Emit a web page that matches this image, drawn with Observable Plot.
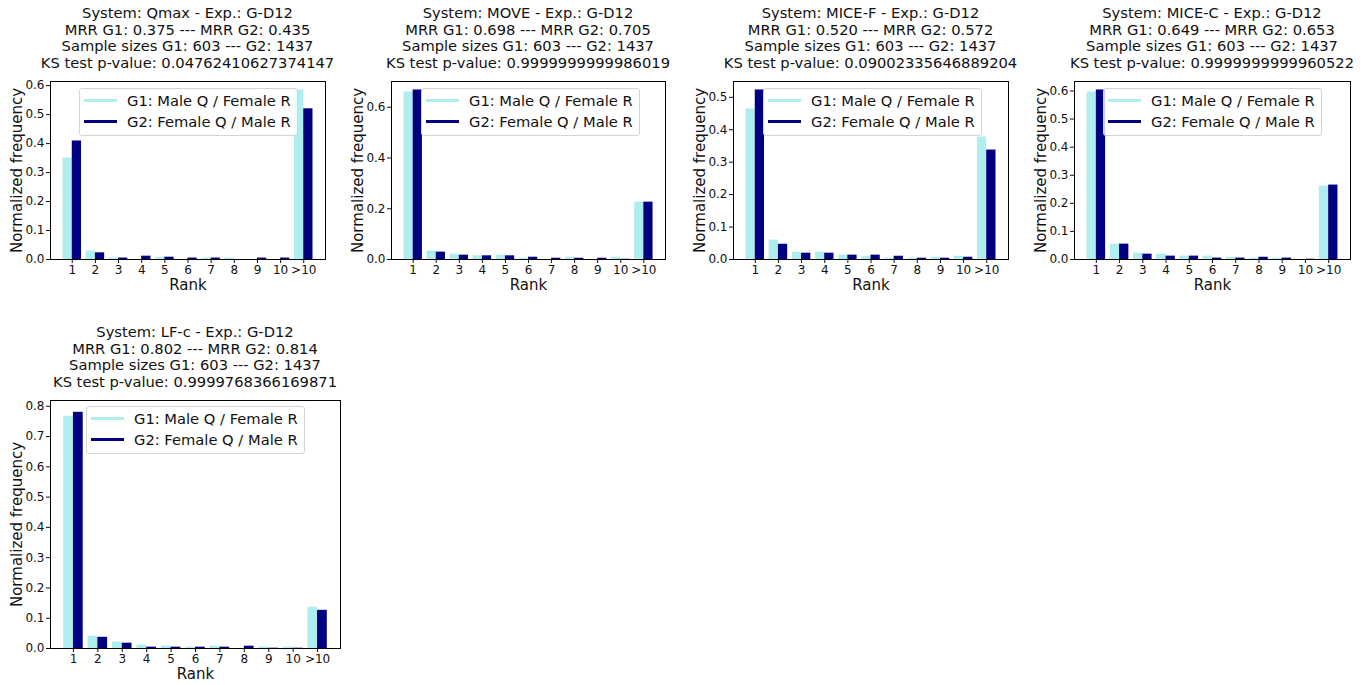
<!DOCTYPE html>
<html><head><meta charset="utf-8">
<script src="https://cdn.jsdelivr.net/npm/d3@7"></script>
<script src="https://cdn.jsdelivr.net/npm/@observablehq/plot@0.6"></script>
<style>
body{margin:0;background:#fff;font-family:"DejaVu Sans",sans-serif;}
#root{position:relative;width:1368px;height:685px;overflow:hidden;background:#fff;}
.title{position:absolute;text-align:center;font-size:14.7px;line-height:16.6px;color:#111;white-space:nowrap;}
.panel{position:absolute;}
.legend{position:absolute;background:rgba(255,255,255,0.8);border:1px solid #d4d4d4;border-radius:3px;padding:1px 6px 3px 4px;font-size:14.7px;color:#111;}
.row{display:flex;align-items:center;height:21px;}
.sw{width:33px;height:3px;margin-right:10px;}
</style></head><body><div id="root"></div>
<script>
// ---- data ----
const ranks = ["1","2","3","4","5","6","7","8","9","10",">10"];
const systems = ["Qmax","MOVE","MICE-F","MICE-C","LF-c"];
const experiment = "G-D12";
const mrrG1 = ["0.375","0.698","0.520","0.649","0.802"];
const mrrG2 = ["0.435","0.705","0.572","0.653","0.814"];
const sampleG1 = 603;
const sampleG2 = 1437;
const pValues = ["0.04762410627374147","0.9999999999986019","0.09002335646889204","0.9999999999960522","0.9999768366169871"];
const seriesNames = ["G1: Male Q / Female R","G2: Female Q / Male R"];
const seriesColors = ["paleturquoise","navy"];

const qmaxG1  = [0.350,0.029,0.005,0.000,0.007,0.000,0.005,0.005,0.000,0.000,0.585];
const qmaxG2  = [0.409,0.023,0.005,0.0115,0.008,0.005,0.005,0.000,0.005,0.005,0.520];
const moveG1  = [0.660,0.033,0.021,0.0145,0.017,0.005,0.000,0.009,0.000,0.009,0.226];
const moveG2  = [0.668,0.029,0.017,0.0145,0.0145,0.009,0.005,0.005,0.005,0.001,0.226];
const miceFG1 = [0.464,0.060,0.0226,0.0226,0.0134,0.010,0.004,0.004,0.007,0.010,0.3776];
const miceFG2 = [0.5226,0.047,0.0195,0.0195,0.0134,0.0134,0.010,0.004,0.004,0.007,0.3374];
const miceCG1 = [0.5964,0.0547,0.0226,0.019,0.012,0.012,0.008,0.005,0.005,0.000,0.261];
const miceCG2 = [0.6036,0.0547,0.019,0.012,0.012,0.005,0.005,0.008,0.005,0.001,0.265];
const lfcG1   = [0.767,0.0405,0.021,0.011,0.0077,0.0044,0.0077,0.000,0.0044,0.0044,0.136];
const lfcG2   = [0.780,0.037,0.0175,0.0044,0.0044,0.0044,0.0044,0.0077,0.001,0.001,0.126];

const yTicks = [
  [0,0.1,0.2,0.3,0.4,0.5,0.6],
  [0,0.2,0.4,0.6],
  [0,0.1,0.2,0.3,0.4,0.5],
  [0,0.1,0.2,0.3,0.4,0.5,0.6],
  [0,0.1,0.2,0.3,0.4,0.5,0.6,0.7,0.8]
];
const g1Series = [qmaxG1, moveG1, miceFG1, miceCG1, lfcG1];
const g2Series = [qmaxG2, moveG2, miceFG2, miceCG2, lfcG2];

// ---- layout (frame boxes in page pixels, legend offsets) ----
const frames = [
  {x:50,  y:81,  w:275, h:178, lx:29, ly:7},
  {x:391, y:81,  w:274, h:178, lx:30, ly:7},
  {x:733, y:81,  w:275, h:178, lx:30, ly:7},
  {x:1074,y:81,  w:276, h:178, lx:29, ly:7},
  {x:50,  y:400, w:290, h:248, lx:36, ly:6}
];
const mL = 50, mR = 6, mT = 4, mB = 40;
const root = document.getElementById("root");

systems.forEach((sys, k) => {
  const f = frames[k];
  const rows = ranks.map((r, i) => ({i, rank: r, g1: g1Series[k][i], g2: g2Series[k][i]}));
  const n = ranks.length;
  const half = 0.4;
  const span = (n - 1) + 2 * half;
  const xDomain = [-half - 0.05 * span, n - 1 + half + 0.05 * span];
  const yMax = d3.max(rows, d => Math.max(d.g1, d.g2)) * 1.05;

  // title
  const t = document.createElement("div");
  t.className = "title";
  t.style.left = (f.x - 80) + "px";
  t.style.width = (f.w + 160) + "px";
  t.style.top = (f.y - 10 - 66) + "px";
  t.innerHTML = [
    `System: ${sys} - Exp.: ${experiment}`,
    `MRR G1: ${mrrG1[k]} --- MRR G2: ${mrrG2[k]}`,
    `Sample sizes G1: ${sampleG1} --- G2: ${sampleG2}`,
    `KS test p-value: ${pValues[k]}`
  ].join("<br>");
  root.appendChild(t);

  const chart = Plot.plot({
    width: f.w + mL + mR,
    height: f.h + mT + mB,
    marginLeft: mL, marginRight: mR, marginTop: mT, marginBottom: mB,
    style: {fontFamily: "DejaVu Sans", fontSize: "12px", color: "#111", background: "transparent", overflow: "visible"},
    x: {type: "linear", domain: xDomain, axis: null},
    y: {domain: [0, yMax], axis: null},
    marks: [
      Plot.rect(rows, {x1: d => d.i - half, x2: d => d.i, y1: 0, y2: "g1", fill: seriesColors[0]}),
      Plot.rect(rows, {x1: d => d.i, x2: d => d.i + half, y1: 0, y2: "g2", fill: seriesColors[1]}),
      Plot.axisX({ticks: d3.range(n), tickFormat: i => ranks[i], tickSize: 4, tickPadding: 2, fontSize: 12, label: null}),
      Plot.axisY({ticks: yTicks[k], tickFormat: d3.format(".1f"), tickSize: 4, tickPadding: 2, fontSize: 12, label: null}),
      Plot.frame({stroke: "black", strokeWidth: 1}),
      Plot.text(["Rank"], {text: d => d, frameAnchor: "bottom", lineAnchor: "middle", textAnchor: "middle", dy: 26, fontSize: 15}),
      Plot.text(["Normalized frequency"], {text: d => d, frameAnchor: "left", lineAnchor: "middle", textAnchor: "middle", rotate: -90, dx: -33, fontSize: 15})
    ]
  });
  const wrap = document.createElement("div");
  wrap.className = "panel";
  wrap.style.left = (f.x - mL) + "px";
  wrap.style.top = (f.y - mT) + "px";
  wrap.appendChild(chart);
  root.appendChild(wrap);

  // legend
  const lg = document.createElement("div");
  lg.className = "legend";
  lg.style.left = (f.x + f.lx) + "px";
  lg.style.top = (f.y + f.ly) + "px";
  lg.innerHTML = seriesNames.map((s, j) =>
    `<div class="row"><span class="sw" style="background:${seriesColors[j]}"></span><span>${s}</span></div>`).join("");
  root.appendChild(lg);
});
</script></body></html>
